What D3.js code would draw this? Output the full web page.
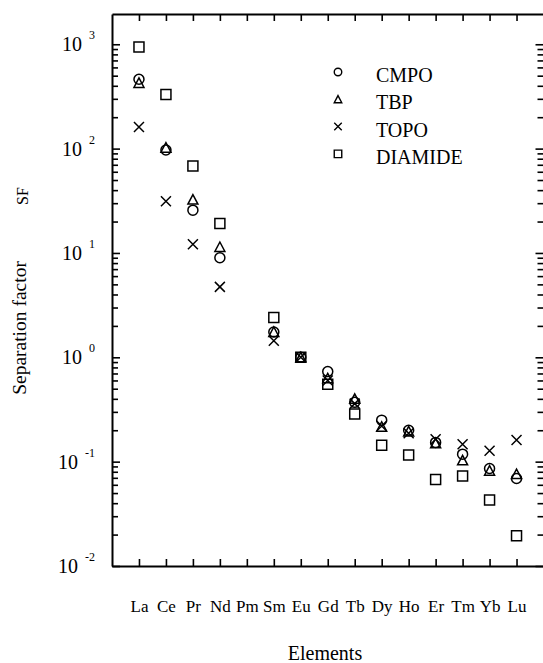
<!DOCTYPE html>
<html>
<head>
<meta charset="utf-8">
<script src="https://cdn.jsdelivr.net/npm/d3@7"></script>
<style>
  body { margin: 0; background: #fff; }
  svg text { font-family: "Liberation Serif", "Times New Roman", serif; fill: #000; }
</style>
</head>
<body>
<div id="chart-area"></div>
<script>
var elements = ["La", "Ce", "Pr", "Nd", "Pm", "Sm", "Eu", "Gd", "Tb", "Dy", "Ho", "Er", "Tm", "Yb", "Lu"];
var cmpo    = [462, 97, 25.7, 9.0, null, 1.75, 1.0, 0.73, 0.37, 0.25, 0.20, 0.153, 0.118, 0.086, 0.069];
var tbp     = [426, 102, 32.5, 11.4, null, 1.75, 1.0, 0.63, 0.40, 0.216, 0.195, 0.15, 0.103, 0.082, 0.076];
var topo    = [161, 31.3, 12.1, 4.73, null, 1.44, 1.0, 0.60, 0.36, 0.22, 0.187, 0.164, 0.147, 0.127, 0.161];
var diamide = [942, 330, 68, 19.2, null, 2.41, 1.0, 0.553, 0.286, 0.144, 0.116, 0.0676, 0.0727, 0.0428, 0.0195];
var decades = [-2, -1, 0, 1, 2, 3];

var series = [
    { name: "CMPO",    values: cmpo,    shape: "circle" },
    { name: "TBP",     values: tbp,     shape: "triangle" },
    { name: "TOPO",    values: topo,    shape: "cross" },
    { name: "DIAMIDE", values: diamide, shape: "square" }
];

var W = 543, H = 663;
var plot = { left: 112, right: 543.5, top: 14, bottom: 566 };
var serif = "Liberation Serif, Times New Roman, serif";

var svg = d3.select("#chart-area")
    .append("svg")
        .attr("width", W)
        .attr("height", H);

var x = d3.scaleLinear()
    .domain([0, elements.length + 1])
    .range([plot.left, plot.right]);

var y = d3.scaleLog()
    .domain([0.01, 1950])
    .range([plot.bottom, plot.top]);

// symbols, centred on (0,0)
function shapePath(shape, s) {
    var h = s / 2;
    if (shape === "square") return "M" + -h + "," + -h + "H" + h + "V" + h + "H" + -h + "Z";
    if (shape === "cross") return "M" + -h + "," + -h + "L" + h + "," + h + "M" + h + "," + -h + "L" + -h + "," + h;
    if (shape === "triangle") return "M0," + -h + "L" + h + "," + (h * 0.9) + "L" + -h + "," + (h * 0.9) + "Z";
    return "M" + h + ",0A" + h + "," + h + " 0 1,1 " + -h + ",0A" + h + "," + h + " 0 1,1 " + h + ",0Z";
}

// y ticks: majors + minors
var yTicks = y.ticks();
function isMajor(d) {
    return Math.abs(Math.log10(d) - Math.round(Math.log10(d))) < 1e-6;
}

var yLeft = svg.append("g")
    .attr("transform", "translate(" + plot.left + ",0)")
    .call(d3.axisRight(y).tickValues(yTicks).tickSizeOuter(0).tickFormat(""));
yLeft.selectAll(".tick line").attr("x2", function(d) { return isMajor(d) ? 8 : 6; });

var yRight = svg.append("g")
    .attr("transform", "translate(" + plot.right + ",0)")
    .call(d3.axisLeft(y).tickValues(yTicks).tickSizeOuter(0).tickFormat(""));
yRight.selectAll(".tick line").attr("x2", function(d) { return isMajor(d) ? -8 : -6; });
yRight.select(".domain").remove();

var xIdx = d3.range(1, elements.length + 1);

var xBottom = svg.append("g")
    .attr("transform", "translate(0," + plot.bottom + ")")
    .call(d3.axisBottom(x)
        .tickValues(xIdx)
        .tickSizeInner(-7)
        .tickSizeOuter(0)
        .tickPadding(34)
        .tickFormat(function(d) { return elements[d - 1]; }));
xBottom.attr("font-family", serif);
xBottom.selectAll("text")
    .attr("font-size", "17px");

svg.append("g")
    .attr("transform", "translate(0," + plot.top + ")")
    .call(d3.axisTop(x)
        .tickValues(xIdx)
        .tickSizeInner(-7)
        .tickSizeOuter(0)
        .tickFormat(""));

svg.selectAll(".domain").attr("stroke-width", 2);
svg.selectAll(".tick line").attr("stroke-width", 1.6);

// y tick labels 10^n
decades.forEach(function(p) {
    var t = svg.append("text")
        .attr("x", 95)
        .attr("y", y(Math.pow(10, p)) + 7)
        .attr("text-anchor", "end")
        .attr("font-family", serif)
        .attr("font-size", "20px");
    t.append("tspan").text("10");
    t.append("tspan")
        .attr("dx", 7)
        .attr("dy", -12)
        .attr("font-size", "12px")
        .text(p);
});

// axis titles
svg.append("text")
    .attr("transform", "translate(28,196) rotate(-90)")
    .attr("text-anchor", "middle")
    .attr("font-family", serif)
    .attr("font-size", "16px")
    .text("SF");

svg.append("text")
    .attr("transform", "translate(26,328) rotate(-90)")
    .attr("text-anchor", "middle")
    .attr("font-family", serif)
    .attr("font-size", "19.5px")
    .text("Separation factor");

svg.append("text")
    .attr("x", 325)
    .attr("y", 660)
    .attr("text-anchor", "middle")
    .attr("font-family", serif)
    .attr("font-size", "20px")
    .text("Elements");

// data marks
series.forEach(function(s) {
    var pts = s.values
        .map(function(v, i) { return { i: i + 1, v: v }; })
        .filter(function(d) { return d.v !== null; });
    svg.append("g").selectAll("path")
        .data(pts)
        .enter()
        .append("path")
            .attr("transform", function(d) { return "translate(" + x(d.i) + "," + y(d.v) + ")"; })
            .attr("d", shapePath(s.shape, 10))
            .attr("fill", "none")
            .attr("stroke", "#000")
            .attr("stroke-width", 1.5);
});

// legend
var legend = svg.append("g");
series.forEach(function(s, i) {
    var by = 82 + i * 27.3;
    legend.append("path")
        .attr("transform", "translate(338," + (by - 10) + ")")
        .attr("d", shapePath(s.shape, 7.5))
        .attr("fill", "none")
        .attr("stroke", "#000")
        .attr("stroke-width", 1.4);
    legend.append("text")
        .attr("x", 376)
        .attr("y", by)
        .attr("font-family", serif)
        .attr("font-size", "20px")
        .text(s.name);
});
</script>
</body>
</html>
